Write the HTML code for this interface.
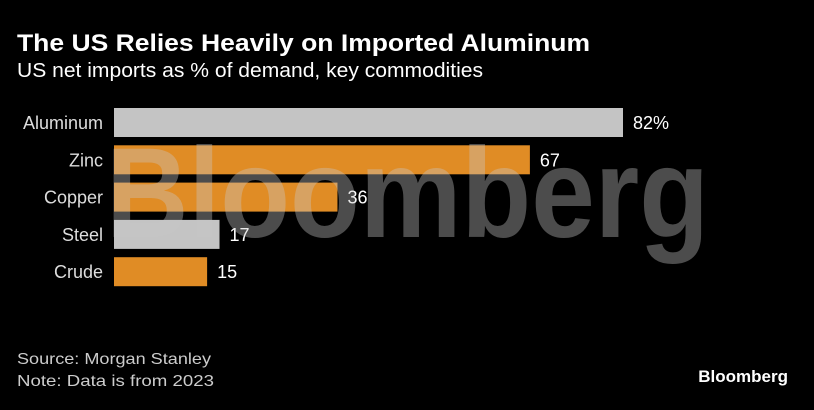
<!DOCTYPE html>
<html><head><meta charset="utf-8"><style>
body{margin:0;background:#000;width:814px;height:405px;overflow:hidden;font-family:"Liberation Sans",sans-serif}
</style></head><body>
<svg width="814" height="405">
<text x="17" y="51" fill="#fff" font-size="24" font-weight="bold" textLength="573" lengthAdjust="spacingAndGlyphs">The US Relies Heavily on Imported Aluminum</text>
<text x="17" y="77" fill="#fff" font-size="20" textLength="466" lengthAdjust="spacingAndGlyphs">US net imports as % of demand, key commodities</text>
<g id="bars"></g>
<text x="106" y="237" fill="rgba(200,200,200,0.38)" font-size="128" font-weight="bold" textLength="603" lengthAdjust="spacingAndGlyphs">Bloomberg</text>
<text x="17" y="364" fill="#ccc" font-size="16" textLength="194" lengthAdjust="spacingAndGlyphs">Source: Morgan Stanley</text>
<text x="17" y="386" fill="#ccc" font-size="16" textLength="197" lengthAdjust="spacingAndGlyphs">Note: Data is from 2023</text>
<text x="788" y="382" fill="#fff" font-size="17" font-weight="bold" text-anchor="end">Bloomberg</text>
</svg>
<script>
const categories=["Aluminum","Zinc","Copper","Steel","Crude"];
const values=[82,67,36,17,15];
const labels=["82%","67","36","17","15"];
const colors=["#c4c4c4","#e08c25","#e08c25","#c4c4c4","#e08c25"];
const x0=114,scale=509/82;
const xs=v=>x0+v*scale;
const ys=i=>108+i*37.3;
const g=document.getElementById('bars');
const NS="http://www.w3.org/2000/svg";
categories.forEach((c,i)=>{
 const r=document.createElementNS(NS,'rect');
 r.setAttribute('x',x0);r.setAttribute('y',ys(i));
 r.setAttribute('width',xs(values[i])-x0);r.setAttribute('height',29);
 r.setAttribute('fill',colors[i]);
 
 
 g.appendChild(r);
 const t=document.createElementNS(NS,'text');
 t.setAttribute('x',103);t.setAttribute('y',ys(i)+21);
 t.setAttribute('text-anchor','end');t.setAttribute('fill','#ddd');t.setAttribute('font-size','18');
 t.textContent=c;
 
 
 g.appendChild(t);
 const v=document.createElementNS(NS,'text');
 v.setAttribute('x',xs(values[i])+10);v.setAttribute('y',ys(i)+21);
 v.setAttribute('fill','#fff');v.setAttribute('font-size','18');
 v.textContent=labels[i];
 
 
 g.appendChild(v);
});
</script>
</body></html>
